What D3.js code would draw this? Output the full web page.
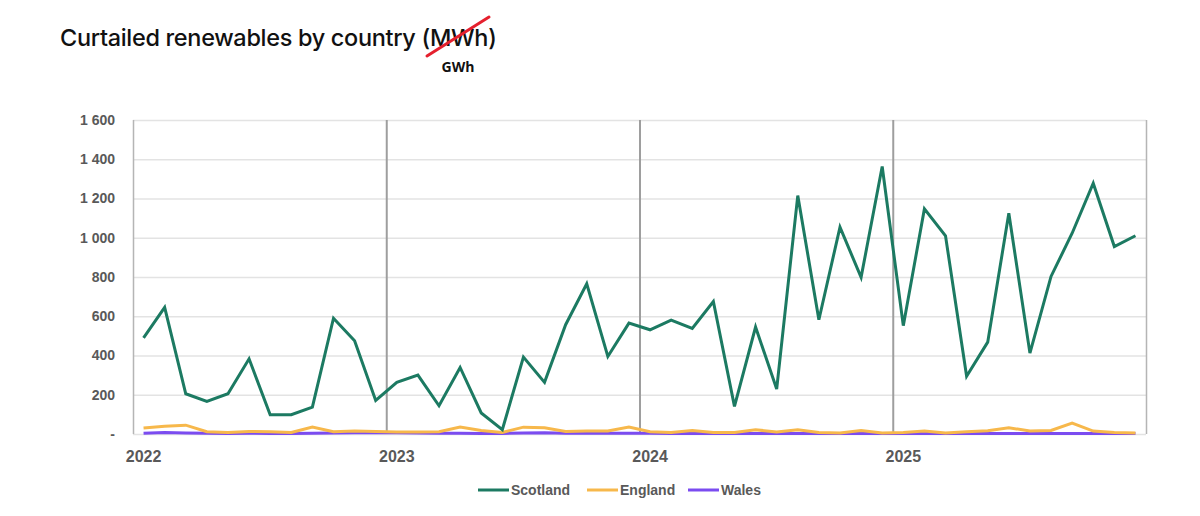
<!DOCTYPE html>
<html>
<head>
<meta charset="utf-8">
<script src="https://cdn.jsdelivr.net/npm/d3@7"></script>
<style>
  body { margin: 0; background: #fff; }
  svg { display: block; }
</style>
</head>
<body>
<div id="chart"></div>
<script>
// monthly curtailment, Jan 2022 .. Dec 2025 (GWh)
var years = ["2022", "2023", "2024", "2025"];
var scotland = [490, 645, 205, 166, 205, 383, 98, 98, 137, 590, 475, 171,
                263, 300, 144, 339, 107, 22, 392, 263, 557, 765, 395, 565,
                531, 580, 538, 675, 141, 545, 229, 1215, 582, 1054, 798, 1363,
                552, 1147, 1010, 294, 468, 1125, 412, 803, 1023, 1278, 955, 1010];
var england = [30, 40, 45, 12, 8, 13, 12, 8, 35, 12, 15, 13,
               10, 10, 12, 35, 18, 8, 35, 32, 13, 15, 15, 35,
               12, 8, 18, 8, 8, 22, 10, 22, 8, 5, 18, 5,
               8, 15, 5, 12, 17, 32, 15, 18, 56, 15, 8, 5];
var wales = [4, 8, 5, 4, 3, 4, 3, 3, 4, 5, 6, 6,
             7, 5, 4, 4, 3, 3, 5, 6, 4, 4, 4, 4,
             4, 3, 3, 3, 3, 3, 3, 3, 3, 3, 3, 3,
             3, 3, 3, 3, 3, 3, 3, 3, 3, 3, 3, 3];
var seriesNames = ["Scotland", "England", "Wales"];
var yTicks = [0, 200, 400, 600, 800, 1000, 1200, 1400, 1600];

var width = 1200, height = 516;
var margin = {top: 120, right: 54, bottom: 82, left: 133};
var colors = {Scotland: "#1c7a62", England: "#f7b84b", Wales: "#7b4cf0"};
var axisFont = "'Liberation Sans', Arial, sans-serif";

var svg = d3.select("#chart").append("svg")
    .attr("width", width)
    .attr("height", height);

var x = d3.scaleLinear()
    .domain([0, scotland.length])
    .range([margin.left, width - margin.right]);

var y = d3.scaleLinear()
    .domain([0, 1600])
    .range([height - margin.bottom, margin.top]);

// title
var title = svg.append("text")
    .attr("x", 60)
    .attr("y", 46)
    .style("font-family", "Inter, 'Noto Sans', sans-serif")
    .style("font-weight", 500)
    .style("font-size", "22px")
    .style("letter-spacing", "-0.3px")
    .style("fill", "#111")
    .text("Curtailed renewables by country (MWh)");

// fit title to the reference width
var tw = title.node().getComputedTextLength();
title.style("font-size", (22 * 436 / tw) + "px");

// red strike over MWh and correction
svg.append("line")
    .attr("x1", 427).attr("y1", 56)
    .attr("x2", 489).attr("y2", 17)
    .style("stroke", "#e5202e")
    .style("stroke-width", 3)
    .style("stroke-linecap", "round");

svg.append("text")
    .attr("x", 458)
    .attr("y", 72)
    .attr("text-anchor", "middle")
    .style("font-family", "'Open Sans', sans-serif")
    .style("font-weight", "bold")
    .style("font-size", "14px")
    .style("fill", "#111")
    .text("GWh");

// horizontal gridlines
var spaceFormat = d3.formatLocale({decimal: ".", thousands: " ", grouping: [3], currency: ["", ""]}).format(",");

var yAxis = d3.axisLeft(y)
    .tickValues(yTicks)
    .tickSize(-(width - margin.left - margin.right))
    .tickPadding(18)
    .tickFormat(function(d) { return d === 0 ? "-" : spaceFormat(d); });

var gy = svg.append("g")
    .attr("transform", "translate(" + margin.left + ",0)")
    .call(yAxis);

gy.select(".domain").remove();
gy.selectAll(".tick line")
    .style("stroke", "#e3e3e3")
    .style("stroke-width", 1.5);
gy.selectAll(".tick text")
    .style("font-family", axisFont)
    .style("font-weight", "bold")
    .style("font-size", "14px")
    .style("fill", "#595959");

// year separators
var xAxis = d3.axisBottom(x)
    .tickValues(d3.range(0, scotland.length + 1, 12))
    .tickSize(-(height - margin.top - margin.bottom))
    .tickFormat("");

var gx = svg.append("g")
    .attr("transform", "translate(0," + (height - margin.bottom) + ")")
    .call(xAxis);

gx.select(".domain").remove();
gx.selectAll(".tick line")
    .style("stroke", function(d) { return (d === 0 || d === scotland.length) ? "#b5b5b5" : "#9e9e9e"; })
    .style("stroke-width", function(d) { return (d === 0 || d === scotland.length) ? 1.5 : 2; });

// year labels at the January point
svg.append("g").selectAll("text")
    .data(years)
    .enter().append("text")
    .attr("x", function(d, i) { return x(i * 12 + 0.5); })
    .attr("y", height - margin.bottom + 28)
    .attr("text-anchor", "middle")
    .style("font-family", axisFont)
    .style("font-weight", "bold")
    .style("font-size", "16px")
    .style("fill", "#595959")
    .text(function(d) { return d; });

// lines
var line = d3.line()
    .x(function(d, i) { return x(i + 0.5); })
    .y(function(d) { return y(d); });

var seriesData = {Scotland: scotland, England: england, Wales: wales};

svg.append("g").selectAll("path")
    .data(["Wales", "England", "Scotland"])
    .enter().append("path")
    .attr("d", function(k) { return line(seriesData[k]); })
    .style("fill", "none")
    .style("stroke", function(k) { return colors[k]; })
    .style("stroke-width", 3)
    .style("stroke-linejoin", "miter");

// legend
var legendX = [478, 587, 688];
var legend = svg.append("g").selectAll("g")
    .data(seriesNames)
    .enter().append("g")
    .attr("transform", function(d, i) { return "translate(" + legendX[i] + ",490)"; });

legend.append("line")
    .attr("x1", 0).attr("x2", 31)
    .style("stroke", function(d) { return colors[d]; })
    .style("stroke-width", 3);

legend.append("text")
    .attr("x", 33)
    .attr("y", 5)
    .style("font-family", axisFont)
    .style("font-weight", "bold")
    .style("font-size", "14px")
    .style("fill", "#595959")
    .text(function(d) { return d; });
</script>
</body>
</html>
